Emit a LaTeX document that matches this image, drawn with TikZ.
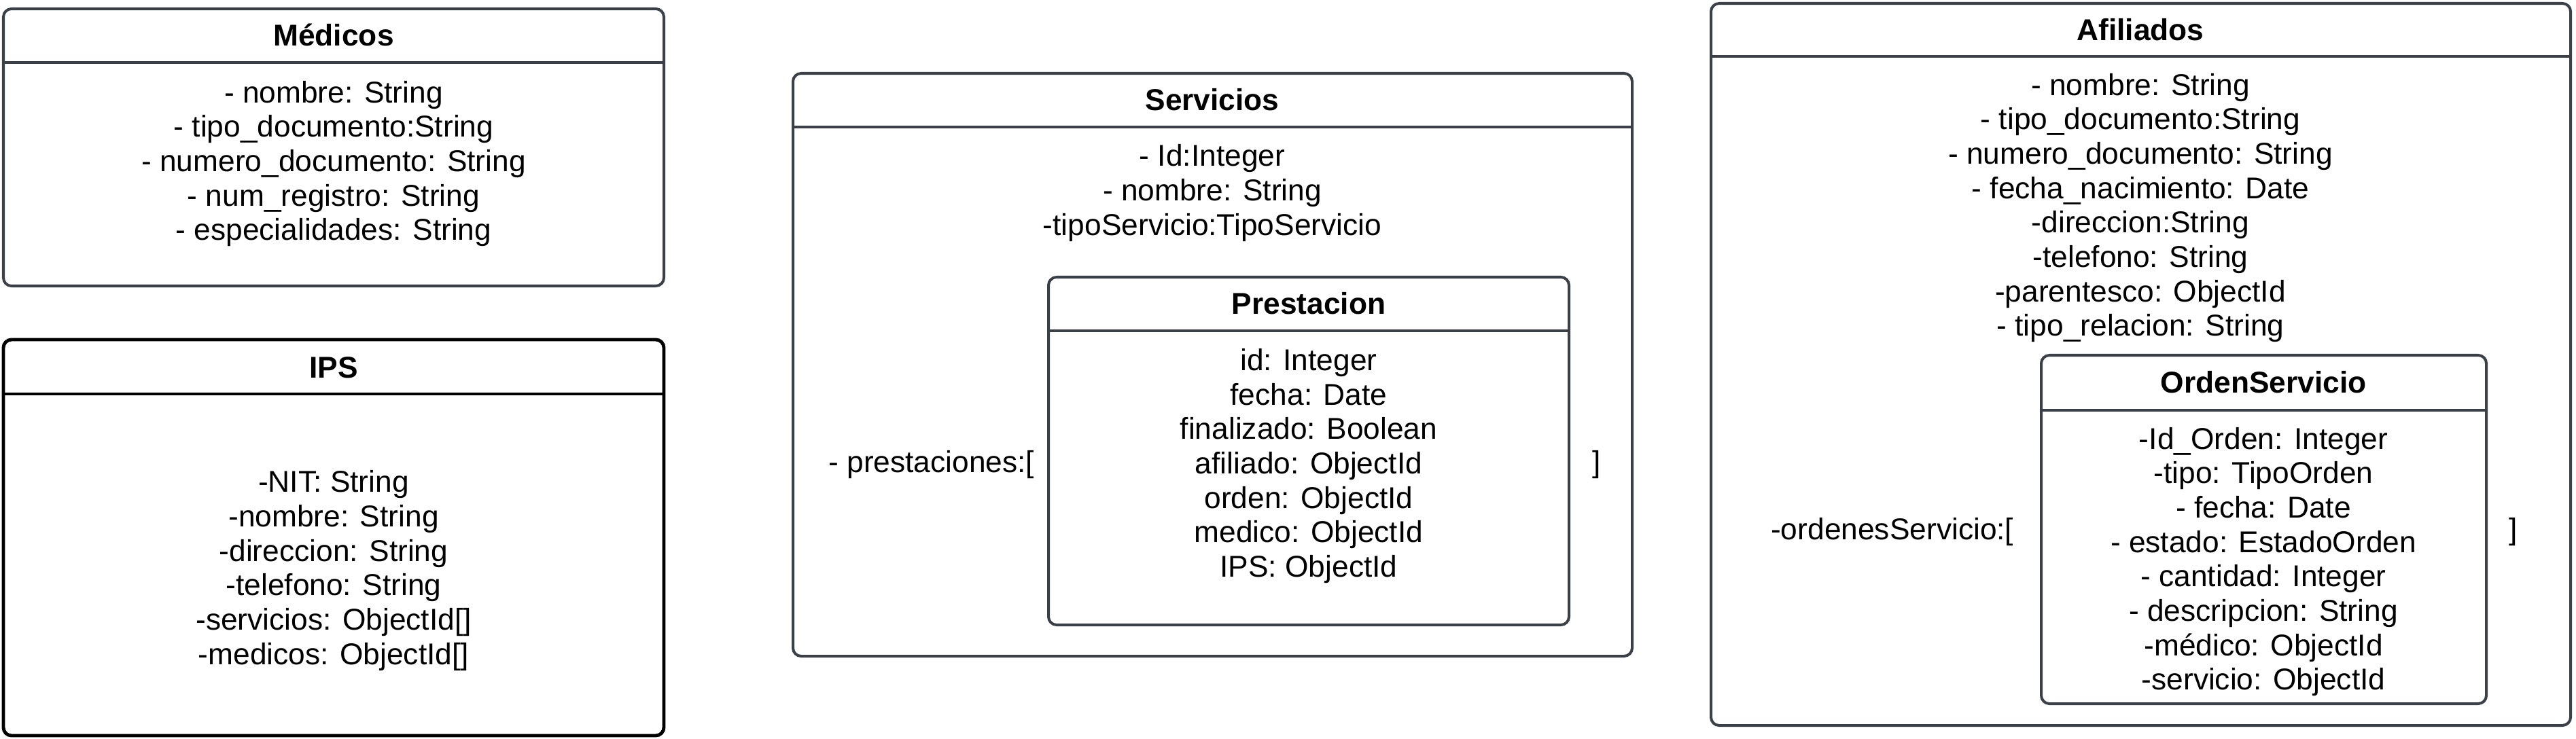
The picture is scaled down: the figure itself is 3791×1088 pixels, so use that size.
\documentclass[tikz,border=0pt]{standalone}
\usepackage{fontspec}
\setmainfont{Liberation Sans}
\definecolor{boxgray}{HTML}{3A3F48}
\tikzset{
  umlbox/.style={draw=boxgray, line width=1.14pt, rounded corners=3.4pt},
  ipsbox/.style={draw=black, line width=1.4pt, rounded corners=3.4pt},
  sepline/.style={draw=boxgray, line width=1.14pt},
  ipsline/.style={draw=black, line width=1.4pt},
  ttl/.style={font=\fontsize{12.6pt}{14.4pt}\selectfont\bfseries, inner sep=0pt, anchor=center},
  attrs/.style={font=\fontsize{12.6pt}{14.4pt}\selectfont, align=center, inner sep=0pt, anchor=center},
  lbl/.style={font=\fontsize{12.6pt}{14.4pt}\selectfont, inner sep=0pt},
}
\begin{document}
\begin{tikzpicture}[x=0.01cm, y=-0.01cm]
\useasboundingbox (0,0) rectangle (3791,1088);

% ---------- Medicos ----------
\draw[umlbox] (5,13) rectangle (977,421);
\coordinate (medL) at (5,92);
\coordinate (medR) at (977,92);
\draw[sepline] (medL) -- (medR);
\node[ttl] (medT) at (491,51) {Médicos};
\node[attrs] (medA) at (491,241) {- nombre: String\\- tipo\_documento:String\\- numero\_documento: String\\- num\_registro: String\\- especialidades: String};

% ---------- IPS ----------
\draw[ipsbox] (5,500) rectangle (977,1083);
\coordinate (ipsL) at (5,580);
\coordinate (ipsR) at (977,580);
\draw[ipsline] (ipsL) -- (ipsR);
\node[ttl] (ipsT) at (491,541) {IPS};
\node[attrs] (ipsA) at (491,840) {-NIT: String\\-nombre: String\\-direccion: String\\-telefono: String\\-servicios: ObjectId[]\\-medicos: ObjectId[]};

% ---------- Servicios ----------
\draw[umlbox] (1167,108) rectangle (2402,966);
\coordinate (serL) at (1167,187);
\coordinate (serR) at (2402,187);
\draw[sepline] (serL) -- (serR);
\node[ttl] (serT) at (1784,147) {Servicios};
\node[attrs] (serA) at (1784,284) {- Id:Integer\\- nombre: String\\-tipoServicio:TipoServicio};
\node[lbl, anchor=east] (serP) at (1523,684) {- prestaciones:[};
\node[lbl] (serC) at (2350,684) {]};

% ---------- Prestacion ----------
\draw[umlbox] (1543,408) rectangle (2309,920);
\coordinate (preL) at (1543,487);
\coordinate (preR) at (2309,487);
\draw[sepline] (preL) -- (preR);
\node[ttl] (preT) at (1926,447) {Prestacion};
\node[attrs] (preA) at (1926,686) {id: Integer\\fecha: Date\\finalizado: Boolean\\afiliado: ObjectId\\orden: ObjectId\\medico: ObjectId\\IPS: ObjectId};

% ---------- Afiliados ----------
\draw[umlbox] (2518,5) rectangle (3783,1068);
\coordinate (afiL) at (2518,83);
\coordinate (afiR) at (3783,83);
\draw[sepline] (afiL) -- (afiR);
\node[ttl] (afiT) at (3150,44) {Afiliados};
\node[attrs] (afiA) at (3150,306) {- nombre: String\\- tipo\_documento:String\\- numero\_documento: String\\- fecha\_nacimiento: Date\\-direccion:String\\-telefono: String\\-parentesco: ObjectId\\- tipo\_relacion: String};
\node[lbl, anchor=east] (afiO) at (2964,783) {-ordenesServicio:[};
\node[lbl] (afiC) at (3699,783) {]};

% ---------- OrdenServicio ----------
\draw[umlbox] (3004,523) rectangle (3659,1036);
\coordinate (ordL) at (3004,604);
\coordinate (ordR) at (3659,604);
\draw[sepline] (ordL) -- (ordR);
\node[ttl] (ordT) at (3331,563) {OrdenServicio};
\node[attrs] (ordA) at (3331,827) {-Id\_Orden: Integer\\-tipo: TipoOrden\\- fecha: Date\\- estado: EstadoOrden\\- cantidad: Integer\\- descripcion: String\\-médico: ObjectId\\-servicio: ObjectId};
\end{tikzpicture}
\end{document}
